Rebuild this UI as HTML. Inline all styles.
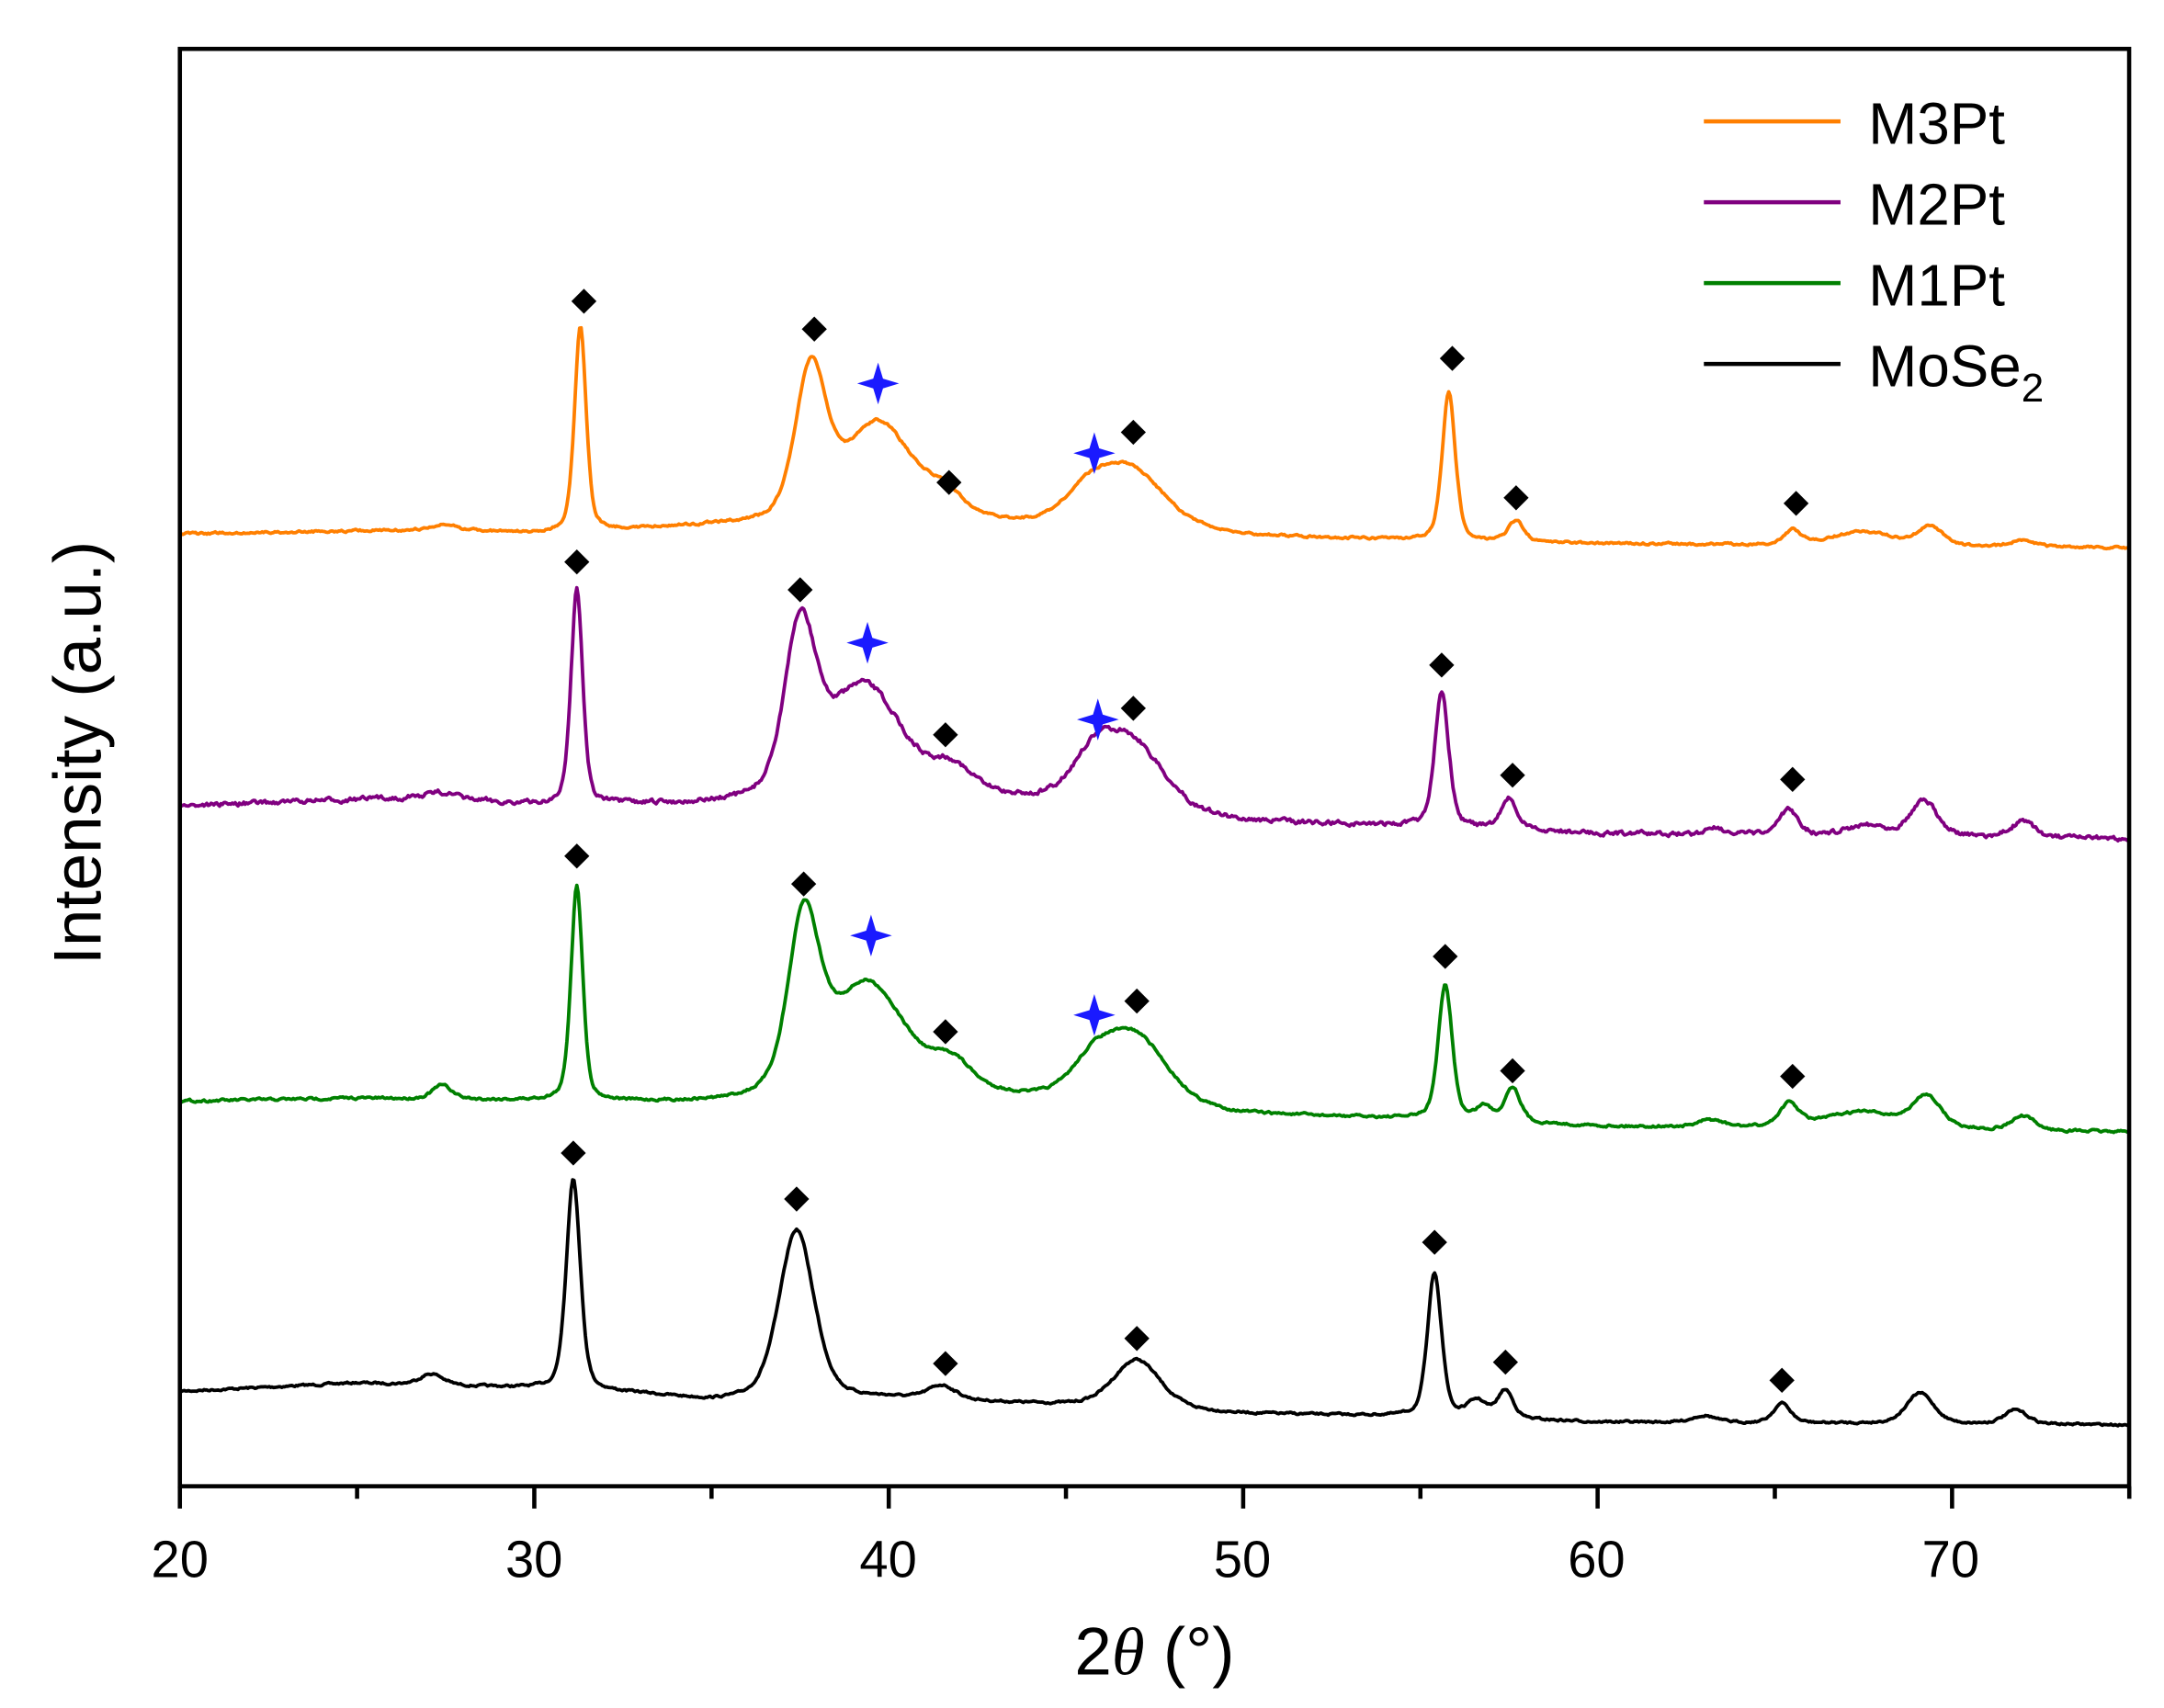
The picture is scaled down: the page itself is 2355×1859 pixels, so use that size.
<!DOCTYPE html>
<html><head><meta charset="utf-8"><style>
html,body{margin:0;padding:0;background:#fff;}
svg{display:block;}
text{font-family:"Liberation Sans",Arial,sans-serif;}
</style></head><body>
<svg id="s" width="2355" height="1859" viewBox="0 0 1552 1225" xmlns="http://www.w3.org/2000/svg">
<rect width="1552" height="1225" fill="#fff"/>
<g id="curves" fill="none" stroke-width="2.5" stroke-linejoin="round"></g>
<g id="marks"></g>
<rect x="129" y="35" width="1398" height="1031" fill="none" stroke="#000" stroke-width="3"/>
<g id="ticks" stroke="#000" stroke-width="3"></g>
<g font-size="37" text-anchor="middle" fill="#000">
<text x="129" y="1131">20</text><text x="383" y="1131">30</text><text x="637" y="1131">40</text>
<text x="891" y="1131">50</text><text x="1145" y="1131">60</text><text x="1399" y="1131">70</text>
</g>
<text x="828" y="1201" font-size="48" text-anchor="middle">2<tspan font-family="Liberation Serif,serif" font-style="italic">θ</tspan> (°)</text>
<text transform="translate(72,540) rotate(-90)" font-size="48" text-anchor="middle">Intensity (a.u.)</text>
<g stroke-width="3">
<line x1="1222" y1="87" x2="1320" y2="87" stroke="#ff7f00"/>
<line x1="1222" y1="145" x2="1320" y2="145" stroke="#800080"/>
<line x1="1222" y1="203" x2="1320" y2="203" stroke="#008000"/>
<line x1="1222" y1="261" x2="1320" y2="261" stroke="#000"/>
</g>
<g font-size="42" fill="#000">
<text x="1340" y="103">M3Pt</text><text x="1340" y="161">M2Pt</text>
<text x="1340" y="219">M1Pt</text><text x="1340" y="277">MoSe<tspan font-size="29" dy="11">2</tspan></text>
</g>
</svg>
<script>
const NS="http://www.w3.org/2000/svg";
const X=t=>129+(t-20)*25.42;
const tk=document.getElementById('ticks');
for(let t=20;t<=75;t+=5){const l=document.createElementNS(NS,'line');l.setAttribute('x1',X(t));l.setAttribute('x2',X(t));l.setAttribute('y1',1066);l.setAttribute('y2',t%10==0?1082:1075);tk.appendChild(l);}
let seed=7;const rnd=()=>{seed=(seed*16807)%2147483647;return seed/2147483647-0.5;};
function interp(pts,t){for(let i=0;i<pts.length-1;i++){if(t>=pts[i][0]&&t<=pts[i+1][0]){const f=(t-pts[i][0])/(pts[i+1][0]-pts[i][0]);return pts[i][1]+f*(pts[i+1][1]-pts[i][1]);}}return pts[pts.length-1][1];}
function pv(t,c,h,w){w*=1.3;const d=(t-c)/w;return h*(0.6*Math.exp(-d*d*0.693)+0.4/(1+d*d));}
const series=[
{col:"#000",noise:1.2,base:[[20,998],[25,992],[30,996],[33,1000],[35,1005],[40,1003],[45,1008],[50,1014],[55,1016],[60,1020],[75,1022]],
peaks:[[27.1,8,0.3],[31.1,152,0.18],[37.4,122,0.45],[41.5,10,0.35],[47.0,35,0.6],[55.4,103,0.18],[56.6,12,0.25],[57.4,20,0.2],[63,5,0.3],[65.2,14,0.22],[69.1,22,0.35],[71.8,10,0.3]],
dia:[[31.1,827],[37.4,860],[41.6,978],[47.0,960],[55.4,891],[57.4,977],[65.2,990]],stars:[]},
{col:"#008000",noise:1.4,base:[[20,790],[25,788],[30,790],[35,792],[43,788],[50,800],[55,803],[60,808],[75,812]],
peaks:[[27.4,10,0.25],[31.2,155,0.15],[37.6,120,0.4],[39.4,82,1.0],[41.8,20,0.5],[45.8,25,0.6],[47.0,48,0.8],[55.7,96,0.18],[56.8,10,0.2],[57.6,25,0.2],[63.2,5,0.3],[65.4,16,0.25],[67.5,12,1.0],[69.3,22,0.35],[72,10,0.3]],
dia:[[31.2,614],[37.6,634],[41.6,740],[47.0,718],[55.7,686],[57.6,768],[65.5,772]],stars:[[39.5,671],[45.8,728]]},
{col:"#800080",noise:2.6,base:[[20,578],[27,572],[30,578],[35,578],[43,574],[50,590],[55,593],[60,598],[75,602]],
peaks:[[27.4,4,0.3],[31.2,155,0.15],[37.5,115,0.4],[39.3,82,1.0],[41.8,18,0.5],[45.8,30,0.6],[46.9,46,0.8],[55.6,98,0.18],[57.5,22,0.2],[63.3,6,0.2],[65.4,18,0.25],[67.6,8,0.5],[69.2,26,0.35],[72,12,0.3]],
dia:[[31.2,403],[37.5,423],[41.6,527],[46.9,508],[55.6,477],[57.6,556],[65.5,559]],stars:[[39.4,461],[45.9,516]]},
{col:"#ff7f00",noise:1.3,base:[[20,383],[27.5,380],[30,383],[35,378],[43,377],[50,385],[55,388],[60,390],[75,393]],
peaks:[[27.5,3,0.3],[31.3,146,0.15],[37.8,106,0.4],[39.7,72,0.9],[41.6,15,0.5],[45.6,18,0.6],[46.8,43,0.9],[55.8,106,0.17],[57.7,15,0.2],[65.5,10,0.22],[67.5,10,0.8],[69.4,14,0.3],[72,5,0.3]],
dia:[[31.4,216],[37.9,236],[41.7,346],[46.9,310],[55.9,257],[57.7,357],[65.6,361]],stars:[[39.7,275],[45.8,325]]}
];
const cg=document.getElementById('curves'),mg=document.getElementById('marks');
for(const s of series){let d="";let n=0;
for(let t=20;t<=75.001;t+=0.04){n=0.6*n+rnd()*s.noise;let y=interp(s.base,t)+n;for(const p of s.peaks)y-=pv(t,p[0],p[1],p[2]);d+=(d?"L":"M")+X(t).toFixed(1)+","+y.toFixed(1);}
const p=document.createElementNS(NS,'path');p.setAttribute('d',d);p.setAttribute('stroke',s.col);cg.appendChild(p);
for(const q of s.dia){const e=document.createElementNS(NS,'path');const x=X(q[0]),y=q[1];e.setAttribute('d',`M${x},${y-9}L${x+9},${y}L${x},${y+9}L${x-9},${y}Z`);e.setAttribute('fill','#000');mg.appendChild(e);}
for(const q of s.stars){const e=document.createElementNS(NS,'path');const x=X(q[0]),y=q[1];e.setAttribute('d',`M${x},${y-15}L${x+3.5},${y-3.5}L${x+15},${y}L${x+3.5},${y+3.5}L${x},${y+15}L${x-3.5},${y+3.5}L${x-15},${y}L${x-3.5},${y-3.5}Z`);e.setAttribute('fill','#1a1aff');mg.appendChild(e);}
}
</script>
</body></html>
